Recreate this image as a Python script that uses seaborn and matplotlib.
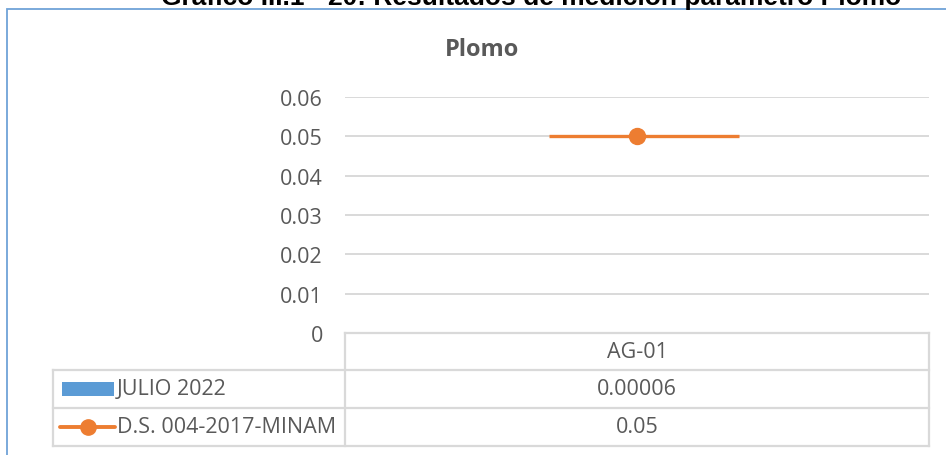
import numpy as np
import pandas as pd
import matplotlib.pyplot as plt
import seaborn as sns
from matplotlib.patches import Rectangle
from matplotlib.lines import Line2D

# data
categories = ["AG-01"]
series_names = ["JULIO 2022", "D.S. 004-2017-MINAM"]
julio_2022 = [0.00006]
ds_004_2017 = [0.05]
value_labels = [["0.00006"], ["0.05"]]
y_ticks = [0, 0.01, 0.02, 0.03, 0.04, 0.05, 0.06]
y_tick_labels = ["0", "0.01", "0.02", "0.03", "0.04", "0.05", "0.06"]

BLUE = "#5B9BD5"
ORANGE = "#ED7D31"
GRAY = "#595959"
GRID = "#D9D9D9"
FS = 15.5

W, H = 946, 456
def fx(px):
    return px / W
def fy(py):
    return 1 - py / H

sns.set_theme(style="white")
plt.rcParams["font.family"] = ["Open Sans", "DejaVu Sans"]

fig = plt.figure(figsize=(W / 100, H / 100), dpi=100)

# outer chart border (cut by the picture edge on right/bottom)
fig.patches.append(Rectangle((fx(7), fy(470)), 1.0, fy(10) - fy(470),
                             transform=fig.transFigure, fill=False,
                             edgecolor="#6FA3D8", lw=1.3))

fig.text(fx(531), fy(4.5), "Gráfico III.1 - 20: Resultados de medición parámetro Plomo",
         ha="center", va="baseline", fontsize=19, fontweight="bold",
         family=["Liberation Sans", "DejaVu Sans"], color="black")
fig.text(fx(482), fy(50), "Plomo", ha="center", va="center", fontsize=17,
         fontweight="bold", color=GRAY)

# plot area
left, right, top, bottom = 345, 929, 98, 334
ax = fig.add_axes([fx(left), fy(bottom), (right - left) / W, (bottom - top) / H])
df = pd.DataFrame({"cat": categories, "val": julio_2022})
sns.barplot(data=df, x="cat", y="val", color=BLUE, width=0.5, ax=ax, saturation=1)
for i, v in enumerate(ds_004_2017):
    ax.plot([i - 0.151, i + 0.175], [v, v], color=ORANGE, lw=2.4, solid_capstyle="butt", zorder=3)
    ax.plot([i], [v], "o", color=ORANGE, ms=11.5, zorder=4)
ax.set_xlim(-0.5, len(categories) - 0.5)
ax.set_ylim(0, 0.06)
ax.set_yticks(y_ticks)
ax.set_yticklabels(y_tick_labels)
ax.set_xticks([])
ax.set_xlabel("")
ax.set_ylabel("")
ax.set_axisbelow(True)
ax.grid(axis="y", color=GRID, lw=1.4)
for s in ax.spines.values():
    s.set_visible(False)
ax.tick_params(axis="y", length=0, pad=16, labelsize=FS, labelcolor=GRAY)

# data table
col_edges = [53, left, right]
row_edges = [bottom, 371, 409, 447]
tab = fig.add_axes([fx(53), fy(447), (right - 53) / W, (447 - bottom) / H])
tab.set_xlim(53, right)
tab.set_ylim(447, bottom)
tab.axis("off")
lk = dict(color=GRID, lw=1.6, solid_capstyle="projecting", clip_on=False)
tab.plot([col_edges[1], col_edges[2]], [row_edges[0]] * 2, **lk)
for r in row_edges[1:]:
    tab.plot([col_edges[0], col_edges[2]], [r, r], **lk)
tab.plot([col_edges[0]] * 2, [row_edges[1], row_edges[3]], **lk)
for c in col_edges[1:]:
    tab.plot([c, c], [row_edges[0], row_edges[3]], **lk)

cx = (col_edges[1] + col_edges[2]) / 2
rc = [(row_edges[k] + row_edges[k + 1]) / 2 for k in range(3)]
tab.text(cx, rc[0], categories[0], ha="center", va="center", fontsize=FS, color=GRAY)
for k in range(2):
    tab.text(cx, rc[k + 1], value_labels[k][0], ha="center", va="center", fontsize=FS, color=GRAY)
    tab.text(117, rc[k + 1], series_names[k], ha="left", va="center", fontsize=FS, color=GRAY)

tab.add_patch(Rectangle((62, rc[1] - 7), 52, 14, color=BLUE, lw=0))
tab.add_line(Line2D([60, 115], [rc[2], rc[2]], color=ORANGE, lw=2.8, solid_capstyle="round"))
tab.plot([87.5], [rc[2]], "o", color=ORANGE, ms=11)

fig.savefig("out.png", dpi=100)
